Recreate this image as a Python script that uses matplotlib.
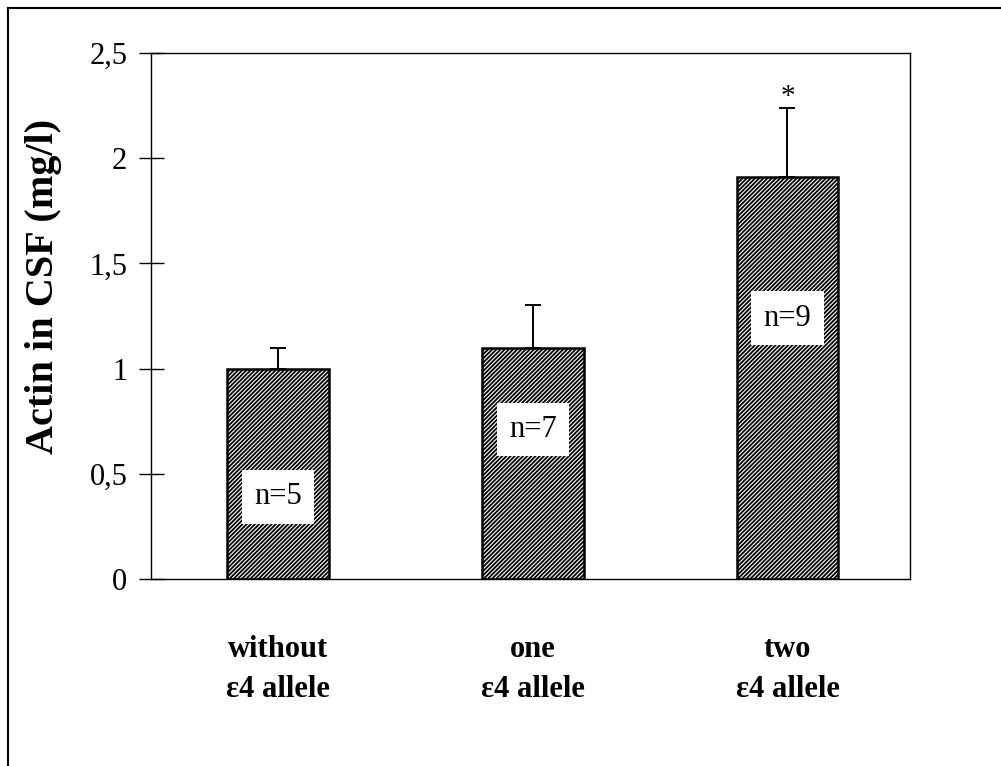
import numpy as np
import matplotlib.pyplot as plt
from matplotlib.lines import Line2D

groups = ['without\nε4 allele', 'one\nε4 allele', 'two\nε4 allele']
means = [1.00, 1.10, 1.91]
errors = [0.10, 0.20, 0.33]
n_labels = ['n=5', 'n=7', 'n=9']
n_label_y = [0.39, 0.71, 1.24]
yticks = [0, 0.5, 1, 1.5, 2, 2.5]
ytick_labels = ['0', '0,5', '1', '1,5', '2', '2,5']

plt.rcParams['font.family'] = ['Liberation Serif', 'DejaVu Serif']
plt.rcParams['hatch.linewidth'] = 1.3

fig = plt.figure(figsize=(10.01, 7.66), dpi=100)
ax = fig.add_axes([0.1508, 0.2441, 0.758, 0.6867])

x = np.arange(len(groups))
ax.bar(x, means, width=0.40, color='white', edgecolor='black',
       linewidth=1.8, hatch='////////', zorder=2)
ax.errorbar(x, means, yerr=[np.zeros(len(errors)), errors], fmt='none',
            ecolor='black', elinewidth=1.4, capsize=6, capthick=1.4, zorder=3)

for xi, lab, yy in zip(x, n_labels, n_label_y):
    ax.text(xi, yy, lab, ha='center', va='center', fontsize=22, zorder=4,
            bbox=dict(boxstyle='square,pad=0.4', facecolor='white', edgecolor='none'))

# significance mark
ax.text(x[2], means[2] + errors[2] + 0.05, '*', ha='center', va='center', fontsize=21)

ax.set_xlim(-0.5, 2.48)
ax.set_ylim(0, 2.5)
ax.set_yticks(yticks)
ax.set_yticklabels(ytick_labels, fontsize=22)
ax.tick_params(axis='y', direction='inout', length=18, width=1, pad=8)
ax.set_xticks(x)
ax.set_xticklabels(groups, fontsize=22, fontweight='bold', linespacing=1.5)
ax.tick_params(axis='x', length=0, pad=40)
for s in ax.spines.values():
    s.set_linewidth(1)

ax.set_ylabel('Actin in CSF (mg/l)', fontsize=29, fontweight='bold')
ax.yaxis.set_label_coords(-0.117, 0.557)

# outer frame (top and left edges of the scanned figure)
fig.add_artist(Line2D([0.008, 1.0], [0.9895, 0.9895], color='black', lw=1.5))
fig.add_artist(Line2D([0.008, 0.008], [0.0, 0.9895], color='black', lw=1.5))

fig.savefig('out.png', dpi=100)
